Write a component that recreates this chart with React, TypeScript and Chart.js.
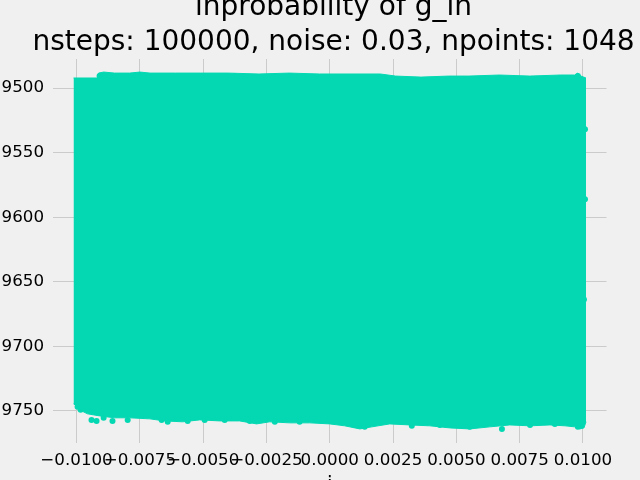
import { useEffect, useRef } from "react";
import { Chart, registerables } from "chart.js";

Chart.register(...registerables);

const titleLines = ["lnprobability of g_ln", "nsteps: 100000, noise: 0.03, npoints: 1048"];
const xAxisLabel = "i";
const xTicks = [-0.01, -0.0075, -0.005, -0.0025, 0, 0.0025, 0.005, 0.0075, 0.01];
const yTicks = [-9750, -9700, -9650, -9600, -9550, -9500];

// upper envelope of the sample cloud
const topX = [-0.01012, -0.00917, -0.00913, -0.00893, -0.0085, -0.0079, -0.0075, -0.0071, -0.0061, -0.0051, -0.004, -0.0028, -0.0016, -0.0004, 0.0008, 0.002, 0.0026, 0.0036, 0.0047, 0.0055, 0.0067, 0.0079, 0.0091, 0.00968, 0.0098, 0.00992, 0.01012];
const topY = [-9492.2, -9492.2, -9488.4, -9487.6, -9488.4, -9488.4, -9487.6, -9488.4, -9488.4, -9488.4, -9488.4, -9489.1, -9488.4, -9489.1, -9489.1, -9489.1, -9490.7, -9491.5, -9490.7, -9490.7, -9489.9, -9490.7, -9489.9, -9489.9, -9488.4, -9490.7, -9492.2];

// lower envelope of the sample cloud
const bottomX = [-0.01012, -0.01, -0.00988, -0.00957, -0.00909, -0.0085, -0.00791, -0.00711, -0.00652, -0.00581, -0.00514, -0.00435, -0.00356, -0.00289, -0.00237, -0.00158, -0.00079, 0, 0.00059, 0.00119, 0.00166, 0.00237, 0.00316, 0.00395, 0.00474, 0.00553, 0.00632, 0.00711, 0.00791, 0.0087, 0.00929, 0.00968, 0.00988, 0.01004, 0.01012];
const bottomY = [-9744.6, -9746.1, -9749.2, -9752.3, -9753.9, -9755.4, -9755.4, -9756.2, -9757.8, -9758.5, -9757.0, -9757.8, -9757.8, -9760.1, -9758.5, -9759.3, -9759.3, -9760.1, -9761.6, -9764.0, -9762.4, -9760.1, -9760.9, -9761.6, -9763.2, -9764.0, -9762.4, -9760.9, -9761.6, -9760.9, -9761.6, -9762.4, -9764.0, -9763.2, -9758.5];

// individual samples sticking out of the cloud's edges
const dotX = [-0.00996, -0.00984, -0.00941, -0.00921, -0.00893, -0.00858, -0.00798, -0.00664, -0.0064, -0.00561, -0.00494, -0.00415, -0.00316, -0.00217, -0.00119, 0.00099, 0.00138, 0.00324, 0.00435, 0.00553, 0.0068, 0.00791, 0.00889, 0.0098, -0.00909, -0.00838, -0.00751, -0.00632, -0.00375, 0.0004, 0.0098, 0.01008, 0.01008, 0.01004];
const dotY = [-9746.9, -9749.2, -9757.0, -9757.8, -9755.4, -9757.8, -9757.0, -9757.0, -9758.5, -9757.8, -9757.0, -9757.0, -9757.8, -9758.5, -9758.5, -9760.9, -9762.4, -9761.6, -9760.9, -9762.4, -9764.0, -9760.9, -9760.1, -9762.4, -9490.7, -9490.7, -9489.9, -9490.7, -9490.7, -9491.5, -9490.7, -9531.8, -9586.2, -9663.8];

const TEAL = "#04d8b2";
const BG = "#f0f0f0";
const GRID = "#cbcbcb";
const FONT = "'DejaVu Sans', sans-serif";

const pts = (xs: number[], ys: number[]) => xs.map((x, i) => ({ x, y: ys[i] }));
const fmtMinus = (s: string) => s.replace("-", "\u2212");

export default function App() {
  const ref = useRef<HTMLCanvasElement | null>(null);

  useEffect(() => {
    if (!ref.current) return;
    const chart = new Chart(ref.current, {
      type: "line",
      data: {
        datasets: [
          {
            data: pts(topX, topY),
            borderColor: TEAL,
            backgroundColor: TEAL,
            borderWidth: 1,
            pointRadius: 0,
            tension: 0,
            fill: "+1",
          },
          {
            data: pts(bottomX, bottomY),
            borderColor: TEAL,
            backgroundColor: TEAL,
            borderWidth: 1,
            pointRadius: 0,
            tension: 0,
            fill: false,
          },
          {
            data: pts(dotX, dotY),
            showLine: false,
            pointRadius: 3,
            pointBorderWidth: 0,
            pointBackgroundColor: TEAL,
            borderColor: TEAL,
            backgroundColor: TEAL,
          },
        ],
      },
      options: {
        animation: false,
        responsive: false,
        maintainAspectRatio: false,
        layout: { padding: { left: 27, right: 0, top: 0, bottom: 0 } },
        plugins: {
          legend: { display: false },
          tooltip: { enabled: false },
          title: {
            display: true,
            text: titleLines,
            color: "#000",
            font: { family: FONT, size: 28, weight: "normal", lineHeight: 1.22 },
            padding: { top: -9, bottom: -0.3 },
          },
        },
        scales: {
          x: {
            type: "linear",
            min: -0.01093,
            max: 0.01093,
            border: { display: false },
            grid: { color: GRID, lineWidth: 1, drawTicks: false },
            afterFit: (s: any) => {
              s.height = 37;
            },
            afterBuildTicks: (s: any) => {
              s.ticks = xTicks.map((v) => ({ value: v }));
            },
            ticks: {
              autoSkip: false,
              maxRotation: 0,
              minRotation: 0,
              padding: 7.2,
              color: "#000",
              font: { family: FONT, size: 16.7, lineHeight: 1.2 },
              callback: (v: any) => fmtMinus((Math.abs(v) < 1e-9 ? 0 : v).toFixed(4)),
            },
            title: {
              display: true,
              text: xAxisLabel,
              color: "#000",
              font: { family: FONT, size: 20, lineHeight: 1.2 },
              padding: { top: 0, bottom: -17 },
            },
          },
          y: {
            type: "linear",
            min: -9774.9,
            max: -9477.5,
            border: { display: false },
            grid: { color: GRID, lineWidth: 1, drawTicks: false },
            afterFit: (s: any) => {
              s.width = 26;
              // let the tick labels run past the axis box, as in the original
              s._computeLabelArea = () => undefined;
            },
            afterBuildTicks: (s: any) => {
              s.ticks = yTicks.map((v) => ({ value: v }));
            },
            ticks: {
              padding: 9,
              color: "#000",
              font: { family: FONT, size: 16.7, lineHeight: 1.2 },
              callback: (v: any) => fmtMinus(String(v)),
            },
          },
          yRight: {
            type: "linear",
            position: "right",
            display: true,
            min: -9774.9,
            max: -9477.5,
            border: { display: false },
            grid: { display: false },
            ticks: { display: false },
            afterFit: (s: any) => {
              s.width = 33.5;
            },
          },
        },
      },
    });
    return () => chart.destroy();
  }, []);

  return (
    <div style={{ position: "fixed", left: 0, top: 0, width: 640, height: 480, background: BG }}>
      <canvas ref={ref} width={640} height={480} style={{ display: "block", width: 640, height: 480 }} />
    </div>
  );
}
